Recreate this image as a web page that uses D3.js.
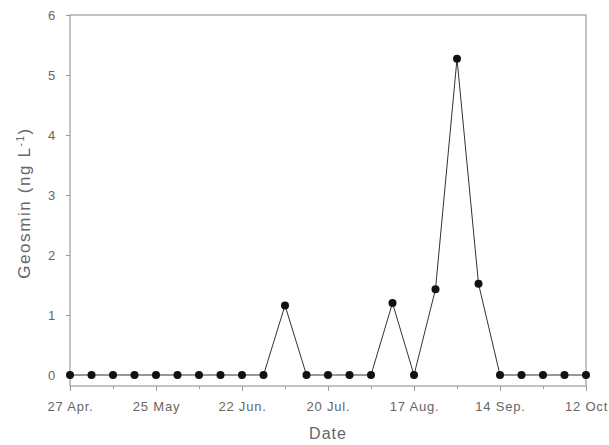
<!DOCTYPE html>
<html>
<head>
<meta charset="utf-8">
<script src="https://cdn.jsdelivr.net/npm/d3@7"></script>
<style>
  body { margin: 0; background: #fff; }
  svg { display: block; font-family: "Liberation Sans", Arial, sans-serif; }
  .axis text { fill: #666; font-size: 13px; letter-spacing: 0.8px; }
  .axis line, .axis path { stroke: #999; }
  .frame { fill: none; stroke: #999; stroke-width: 1.2; }
  .series { fill: none; stroke: #333; stroke-width: 1; }
  .dot { fill: #111; }
  .title { fill: #666; font-size: 16px; letter-spacing: 1px; }
  .ytitle { font-size: 17px; letter-spacing: 1.6px; }
</style>
</head>
<body>
<svg width="609" height="445"></svg>
<script>
// sampling dates (weekly) and geosmin values (ng/L)
const sampleDates = ['04-27', '05-04', '05-11', '05-18', '05-25', '06-01', '06-08', '06-15', '06-22',
  '06-29', '07-06', '07-13', '07-20', '07-27', '08-03', '08-10', '08-17', '08-24', '08-31',
  '09-07', '09-14', '09-21', '09-28', '10-05', '10-12'];
const geosmin = [0, 0, 0, 0, 0, 0, 0, 0, 0, 0, 1.16, 0, 0, 0, 0, 1.2, 0, 1.43, 5.27, 1.52, 0, 0, 0, 0, 0];

const tickDates = ['04-27', '05-25', '06-22', '07-20', '08-17', '09-14', '10-12'];
const tickLabels = ['27 Apr.', '25 May', '22 Jun.', '20 Jul.', '17 Aug.', '14 Sep.', '12 Oct'];
const minorTickDates = ['05-11', '06-08', '07-06', '08-03', '08-31', '09-28'];
const yTicks = [0, 1, 2, 3, 4, 5, 6];

const parse = d3.timeParse('%Y-%m-%d');
const toDate = s => parse('2001-' + s);

const svg = d3.select('svg');
const plot = {left: 70, right: 586, top: 15, bottom: 386, zero: 375};

const x = d3.scaleTime()
  .domain([toDate(sampleDates[0]), toDate(sampleDates[sampleDates.length - 1])])
  .range([plot.left, plot.right]);
const y = d3.scaleLinear()
  .domain([0, 6])
  .range([plot.zero, plot.top]);

// frame
svg.append('rect')
  .attr('class', 'frame')
  .attr('x', plot.left)
  .attr('y', plot.top)
  .attr('width', plot.right - plot.left)
  .attr('height', plot.bottom - plot.top);

// x axis, minor ticks first
svg.append('g')
  .attr('class', 'axis')
  .attr('transform', 'translate(0,' + plot.bottom + ')')
  .call(d3.axisBottom(x).tickValues(minorTickDates.map(toDate)).tickSize(3).tickFormat(''))
  .call(g => g.select('.domain').remove());
svg.append('g')
  .attr('class', 'axis')
  .attr('transform', 'translate(0,' + plot.bottom + ')')
  .call(d3.axisBottom(x).tickValues(tickDates.map(toDate)).tickSize(5).tickPadding(11)
    .tickFormat((d, i) => tickLabels[i]))
  .call(g => g.select('.domain').remove());

// y axis
svg.append('g')
  .attr('class', 'axis')
  .attr('transform', 'translate(' + plot.left + ',0)')
  .call(d3.axisLeft(y).tickValues(yTicks).tickSize(4).tickPadding(10).tickFormat(d3.format('d')))
  .call(g => g.select('.domain').remove());

// series
const points = sampleDates.map((s, i) => [toDate(s), geosmin[i]]);
const line = d3.line()
  .x(d => x(d[0]))
  .y(d => y(d[1]));
svg.append('path')
  .datum(points)
  .attr('class', 'series')
  .attr('d', line);
svg.selectAll('.dot')
  .data(points)
  .enter().append('circle')
  .attr('class', 'dot')
  .attr('cx', d => x(d[0]))
  .attr('cy', d => y(d[1]))
  .attr('r', 4);

// axis titles
svg.append('text')
  .attr('class', 'title')
  .attr('x', (plot.left + plot.right) / 2)
  .attr('y', 439)
  .attr('text-anchor', 'middle')
  .text('Date');
const yTitle = svg.append('text')
  .attr('class', 'title ytitle')
  .attr('transform', 'translate(30,203) rotate(-90)')
  .attr('text-anchor', 'middle');
yTitle.append('tspan').text('Geosmin (ng L');
yTitle.append('tspan').attr('dy', -6).attr('font-size', '10px').text('-1');
yTitle.append('tspan').attr('dy', 6).text(')');
</script>
</body>
</html>
